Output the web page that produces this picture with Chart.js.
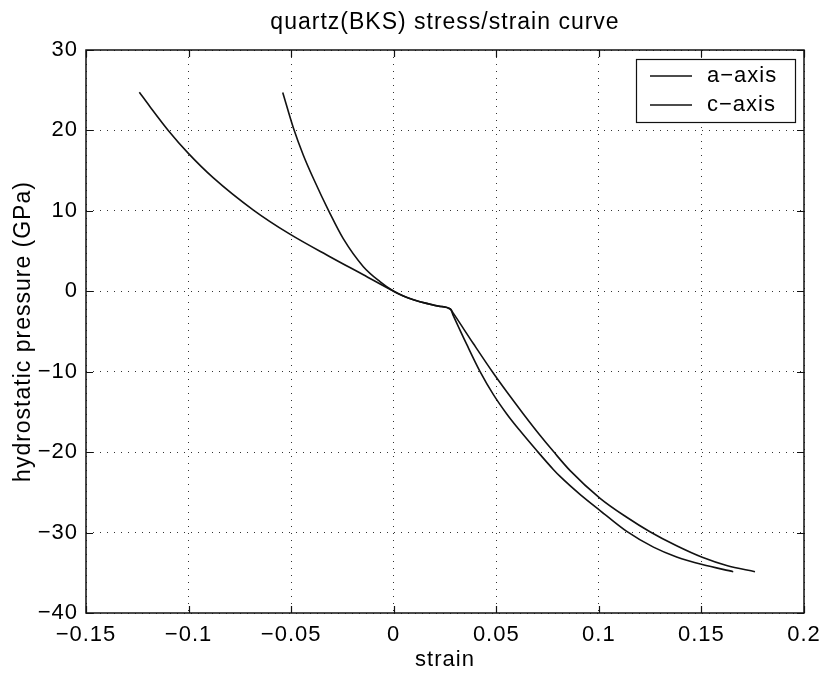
<!DOCTYPE html>
<html>
<head>
<meta charset="utf-8">
<script src="https://cdn.jsdelivr.net/npm/chart.js@4/dist/chart.umd.min.js"></script>
<style>
html,body{margin:0;padding:0;background:#fff;}
#wrap{width:828px;height:675px;}
</style>
</head>
<body>
<div id="wrap"><canvas id="c" width="828" height="675"></canvas></div>
<script>
// ---- data ----
const aStrain = [-0.124, -0.1188, -0.1099, -0.1001, -0.0879, -0.0684, -0.0506, -0.0311, -0.0148, 0, 0.005, 0.010, 0.016, 0.022, 0.0276, 0.0291, 0.0388, 0.0486, 0.0551, 0.0632, 0.0713, 0.0778, 0.0860, 0.1006, 0.1136, 0.1249, 0.1379, 0.1504, 0.1623, 0.1761];
const aPressure = [24.75, 22.95, 20.0, 17.15, 14.1, 10.1, 7.1, 4.3, 2.05, 0, -0.62, -1.07, -1.5, -1.85, -2.2, -2.75, -6.5, -10.2, -12.5, -15.25, -17.9, -19.9, -22.3, -25.74, -28.1, -29.9, -31.65, -33.08, -34.1, -34.86];
const cStrain = [-0.0541, -0.0489, -0.0441, -0.0392, -0.0311, -0.0246, -0.0148, -0.0067, 0, 0.005, 0.010, 0.016, 0.022, 0.0276, 0.0291, 0.0356, 0.0421, 0.0486, 0.0551, 0.0616, 0.0697, 0.0778, 0.0811, 0.0908, 0.1006, 0.1136, 0.1266, 0.1379, 0.1504, 0.1655];
const cPressure = [24.72, 20.3, 16.95, 14.05, 9.69, 6.54, 3.06, 1.2, 0, -0.62, -1.07, -1.5, -1.85, -2.2, -3.05, -6.61, -9.99, -12.85, -15.25, -17.35, -19.8, -22.15, -23.02, -25.25, -27.26, -29.86, -31.81, -33.03, -33.98, -34.86];
const seriesLabels = ['a\u2212axis', 'c\u2212axis'];
const xTicks = [-0.15, -0.1, -0.05, 0, 0.05, 0.1, 0.15, 0.2];
const xTickLabels = ['\u22120.15', '\u22120.1', '\u22120.05', '0', '0.05', '0.1', '0.15', '0.2'];
const yTicks = [-40, -30, -20, -10, 0, 10, 20, 30];
const yTickLabels = ['\u221240', '\u221230', '\u221220', '\u221210', '0', '10', '20', '30'];
const chartTitle = 'quartz(BKS) stress/strain curve';
const xTitle = 'strain';
const yTitle = 'hydrostatic pressure (GPa)';

const FONT = '"Liberation Sans", Arial, Helvetica, sans-serif';
const toPts = (xs, ys) => xs.map((x, i) => ({x: x, y: ys[i]}));

const spacingPlugin = {
  id: 'spacing',
  beforeLayout(chart) { try { chart.ctx.letterSpacing = '1px'; } catch (e) {} },
  beforeDraw(chart) { try { chart.ctx.letterSpacing = '1px'; } catch (e) {} }
};

const framePlugin = {
  id: 'frame',
  afterDraw(chart) {
    const ctx = chart.ctx;
    const a = chart.chartArea;
    const xs = chart.scales.x, ys = chart.scales.y;
    ctx.save();
    ctx.strokeStyle = '#111';
    ctx.lineWidth = 1.5;
    ctx.setLineDash([]);
    ctx.strokeRect(a.left, a.top, a.right - a.left, a.bottom - a.top);
    ctx.lineWidth = 1.2;
    const tl = 7;
    ctx.beginPath();
    xTicks.forEach(v => {
      const p = Math.round(xs.getPixelForValue(v)) + 0.5;
      ctx.moveTo(p, a.bottom); ctx.lineTo(p, a.bottom - tl);
      ctx.moveTo(p, a.top); ctx.lineTo(p, a.top + tl);
    });
    yTicks.forEach(v => {
      const p = Math.round(ys.getPixelForValue(v)) + 0.5;
      ctx.moveTo(a.left, p); ctx.lineTo(a.left + tl, p);
      ctx.moveTo(a.right, p); ctx.lineTo(a.right - tl, p);
    });
    ctx.stroke();

    // legend box (inside top-right)
    const bw = 159, bh = 63;
    const bx = a.right - 9 - bw, by = a.top + 9;
    ctx.fillStyle = '#fff';
    ctx.fillRect(bx, by, bw, bh);
    ctx.lineWidth = 1.2;
    ctx.strokeStyle = '#111';
    ctx.strokeRect(bx + 0.5, by + 0.5, bw, bh);
    ctx.font = '22px ' + FONT;
    ctx.fillStyle = '#000';
    ctx.textBaseline = 'middle';
    ctx.textAlign = 'left';
    chart.data.datasets.forEach((ds, i) => {
      const yy = by + 17 + i * 29;
      ctx.strokeStyle = ds.borderColor;
      ctx.lineWidth = 1.3;
      ctx.beginPath();
      ctx.moveTo(bx + 14, yy); ctx.lineTo(bx + 56, yy);
      ctx.stroke();
      ctx.fillText(ds.label, bx + 71, yy);
    });
    ctx.restore();
  }
};

new Chart(document.getElementById('c'), {
  type: 'scatter',
  data: {
    datasets: [
      {label: seriesLabels[0], data: toPts(aStrain, aPressure), showLine: true, borderColor: '#111', borderWidth: 1.6, pointRadius: 0, cubicInterpolationMode: 'monotone', fill: false},
      {label: seriesLabels[1], data: toPts(cStrain, cPressure), showLine: true, borderColor: '#111', borderWidth: 1.6, pointRadius: 0, cubicInterpolationMode: 'monotone', fill: false}
    ]
  },
  options: {
    responsive: false,
    animation: false,
    events: [],
    layout: {padding: {left: 0, right: 24, top: 0, bottom: 0}},
    plugins: {
      legend: {display: false},
      tooltip: {enabled: false},
      title: {
        display: true, text: chartTitle, color: '#000', fullSize: false,
        font: {family: FONT, size: 23, weight: 'normal', lineHeight: 1.2},
        padding: {top: 9, bottom: 13.4}
      }
    },
    scales: {
      x: {
        type: 'linear', min: -0.15, max: 0.2,
        afterBuildTicks: s => { s.ticks = xTicks.map(v => ({value: v})); },
        afterFit: s => { s.height = 62; },
        ticks: {
          autoSkip: false, maxRotation: 0, padding: 6, color: '#000',
          font: {family: FONT, size: 22, lineHeight: 1.45},
          callback: (v, i) => xTickLabels[i]
        },
        grid: {color: '#333', lineWidth: 1, drawTicks: false},
        border: {display: false, dash: [1, 6]},
        title: {display: true, text: xTitle, color: '#000', font: {family: FONT, size: 22}, padding: {top: 0, bottom: 2}}
      },
      y: {
        type: 'linear', min: -40, max: 30,
        afterBuildTicks: s => { s.ticks = yTicks.map(v => ({value: v})); },
        afterFit: s => { s.width = 86; },
        ticks: {
          autoSkip: false, padding: 8, color: '#000',
          font: {family: FONT, size: 22},
          callback: (v, i) => yTickLabels[i]
        },
        grid: {color: '#333', lineWidth: 1, drawTicks: false},
        border: {display: false, dash: [1, 6]},
        title: {display: true, text: yTitle, color: '#000', font: {family: FONT, size: 23}, padding: {top: 10, bottom: 0}}
      }
    }
  },
  plugins: [spacingPlugin, framePlugin]
});
</script>
</body>
</html>
